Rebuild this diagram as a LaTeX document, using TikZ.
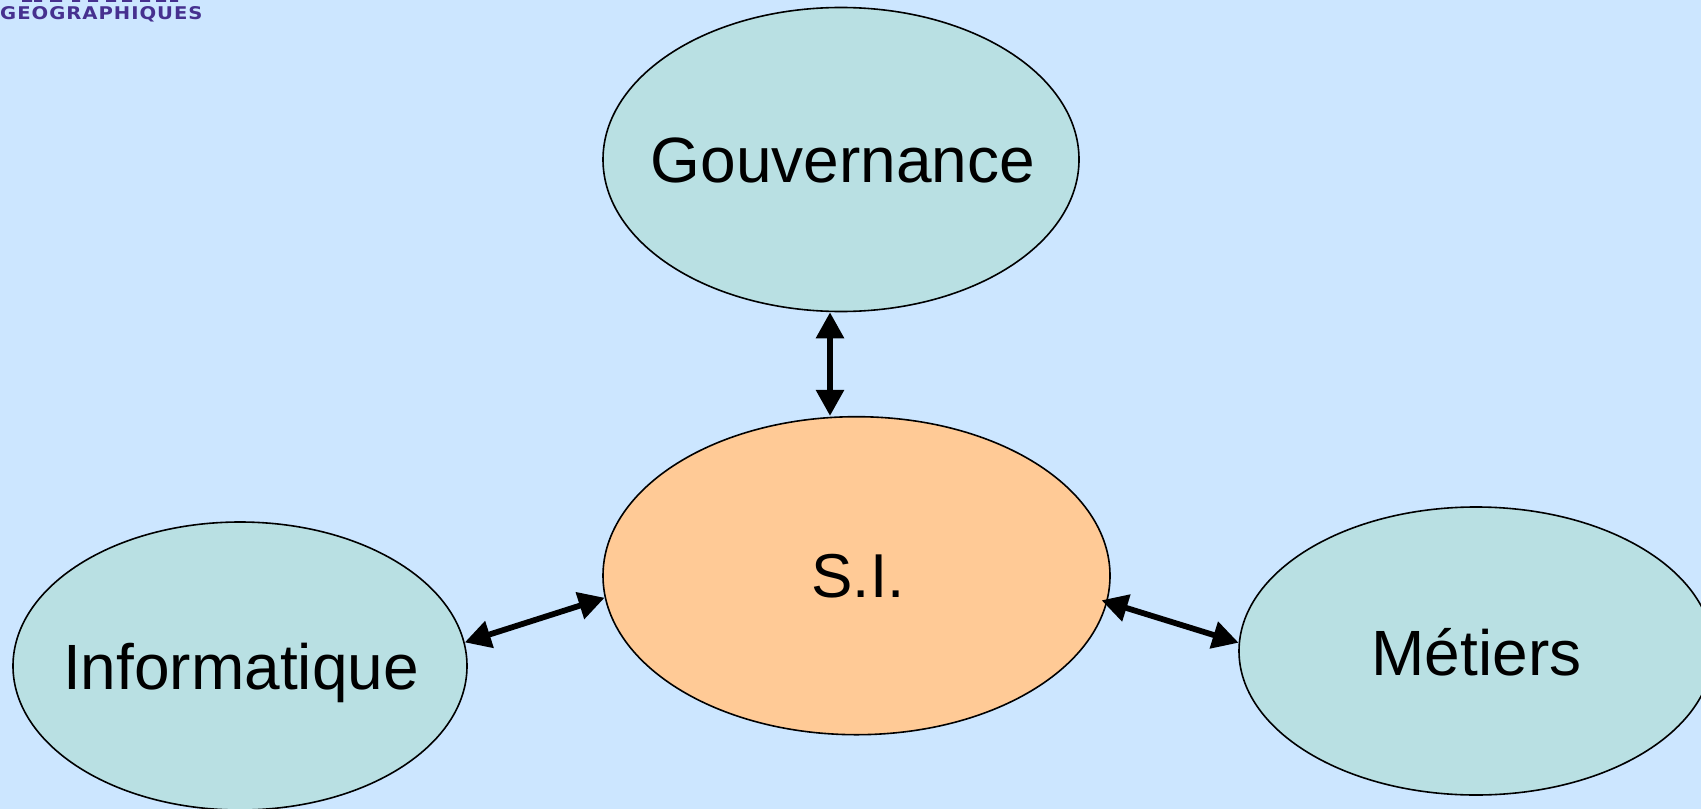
\documentclass[tikz,border=0pt]{standalone}
\usepackage{fontspec}
\setmainfont{Liberation Sans}
\newfontfamily\logofont[LetterSpace=5]{DejaVu Sans}
\usetikzlibrary{shapes.geometric,arrows.meta}
\definecolor{bgblue}{HTML}{CCE6FF}
\definecolor{tealfill}{HTML}{B9E0E3}
\definecolor{orangefill}{HTML}{FFCA96}
\definecolor{logopurple}{HTML}{46308F}
\newcommand{\bubbletext}[3]{\makebox[0pt]{\hspace*{#1}\smash{\raisebox{#2}{#3}}}}
\tikzset{
  bubble/.style={ellipse,draw=black,line width=1.6bp,inner sep=0pt,font=\fontsize{64bp}{70bp}\selectfont},
  link/.style={line width=5.8bp,black,{Triangle[length=26bp,width=27bp]}-{Triangle[length=26bp,width=27bp]}},
  logobit/.style={fill=logopurple,draw=none},
}
\begin{document}
\begin{tikzpicture}[x=1bp,y=-1bp]
\path[use as bounding box,fill=bgblue] (0,0) rectangle (1701,809);
\clip (0,0) rectangle (1701,809);
\node[bubble,fill=tealfill,minimum width=476bp,minimum height=304bp] (G) at (841,159.5) {\bubbletext{4bp}{-23bp}{Gouvernance}};
\node[bubble,fill=orangefill,minimum width=507bp,minimum height=318bp] (S) at (856.5,575.7) {\bubbletext{3bp}{-22bp}{\fontsize{62bp}{70bp}\selectfont S.I.}};
\node[bubble,fill=tealfill,minimum width=454bp,minimum height=288bp] (I) at (240,666) {\bubbletext{2bp}{-23bp}{Informatique}};
\node[bubble,fill=tealfill,minimum width=474bp,minimum height=288bp] (M) at (1476,651) {\bubbletext{1bp}{-24bp}{Métiers}};
\coordinate (vaxis) at (830,364);
\draw[link] (G.south -| vaxis) -- (S.north -| vaxis);
\draw[link] (I.6.5) -- (S.185.8);
\draw[link,shorten <=-6bp] (S.354) -- (M.178);
\node[anchor=west,inner sep=0pt,text=logopurple,font=\logofont\bfseries\fontsize{17.5bp}{20bp}\selectfont] (logo) at (0,14) {\scalebox{1.12}[1]{GEOGRAPHIQUES}};
\path[logobit] (22,0) rectangle (32,2) (34,0) rectangle (42,2) (50,0) rectangle (62,2) (72,0) rectangle (80,2)
  (88,0) rectangle (98,2) (106,0) rectangle (116,2) (122,0) rectangle (132,2) (140,0) rectangle (150,2) (156,0) rectangle (166,2) (170,0) rectangle (178,2);
\end{tikzpicture}
\end{document}
